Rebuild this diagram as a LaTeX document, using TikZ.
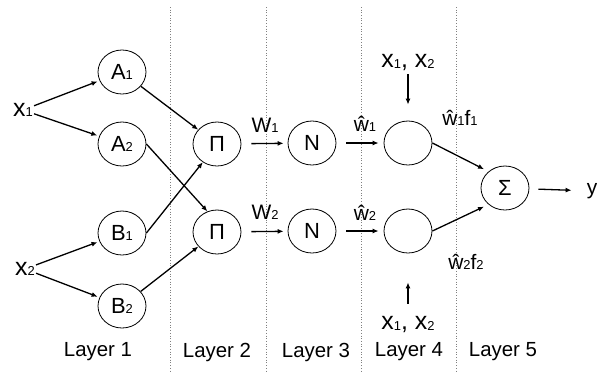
\documentclass[tikz,border=0pt]{standalone}
\usepackage{fontspec}
\setmainfont{Liberation Sans}
\usetikzlibrary{arrows.meta,shapes.geometric}
\newcommand{\lo}[1]{\raisebox{-0.4pt}{\fontsize{13}{13}\selectfont #1}}

\begin{document}
\begin{tikzpicture}[
  x=1bp,
  y=-1bp,
  unitnode/.style={ellipse, draw, line width=0.8bp, minimum width=48bp, minimum height=44bp, inner sep=0pt, font=\fontsize{22}{22}\selectfont},
  plainlabel/.style={inner sep=1pt, font=\fontsize{21}{21}\selectfont},
  inputlabel/.style={inner sep=1pt, font=\fontsize{25}{25}\selectfont},
  layerlabel/.style={font=\fontsize{20.5}{20.5}\selectfont},
  flow/.style={line width=1.3bp, -{Latex[length=6bp,width=5bp]}},
  divider/.style={gray, dotted, line width=0.7bp}
]
\useasboundingbox (0,0) rectangle (597,371);

\foreach \x in {170,266,361,456} {
  \draw[divider] (\x,7) -- (\x,371);
}
\foreach \x/\n in {98/1,217/2,316/3,409/4,503/5} {
  \node[layerlabel] at (\x,352) {Layer \n};
}

\node[inputlabel] (inOne) at (23,110) {x\lo{1}};
\node[inputlabel] (inTwo) at (25,269) {x\lo{2}};

\node[unitnode] (nA1) at (122,72) {A\lo{1}};
\node[unitnode] (nA2) at (122,144) {A\lo{2}};
\node[unitnode] (nB1) at (122,233) {B\lo{1}};
\node[unitnode] (nB2) at (122,306) {B\lo{2}};
\node[unitnode] (nP1) at (217,144) {Π};
\node[unitnode] (nP2) at (217,232) {Π};
\node[unitnode] (nN1) at (312,143) {N};
\node[unitnode] (nN2) at (312,231) {N};
\node[unitnode] (nF1) at (408,143) {};
\node[unitnode] (nF2) at (408,231) {};
\node[unitnode] (nSum) at (505,188) {Σ};
\node[plainlabel] (outY) at (592,191) {y};

\node[plainlabel] at (265,125) {W\lo{1}};
\node[plainlabel] at (265,212) {W\lo{2}};
\node[plainlabel] at (365,124) {ŵ\lo{1}};
\node[plainlabel] at (365,213) {ŵ\lo{2}};
\node[plainlabel] at (460,118) {ŵ\lo{1}f\lo{1}};
\node[plainlabel] at (466,262) {ŵ\lo{2}f\lo{2}};
\node[inputlabel] (topIn) at (408,63) {x\lo{1}, x\lo{2}};
\node[inputlabel] (botIn) at (408,325) {x\lo{1}, x\lo{2}};

\draw[flow, shorten >=2bp] (inOne) -- (nA1);
\draw[flow, shorten >=2bp] (inOne) -- (nA2);
\draw[flow, shorten >=2bp] (inTwo) -- (nB1);
\draw[flow, shorten >=2bp] (inTwo) -- (nB2);

\draw[flow] (nA1) -- (nP1);
\draw[flow] (nA2.east) -- (nP2.115);
\draw[flow] (nB1.east) -- (nP1.232);
\draw[flow] (nB2) -- (nP2);

\draw[flow, shorten <=10bp, shorten >=4bp] (nP1) -- (nN1);
\draw[flow, shorten <=10bp, shorten >=4bp] (nP2) -- (nN2);
\draw[flow, shorten <=10bp, shorten >=5bp] (nN1) -- (nF1);
\draw[flow, shorten <=10bp, shorten >=5bp] (nN2) -- (nF2);

\draw[flow, shorten <=2bp, shorten >=16bp] (topIn) -- (nF1);
\draw[flow, shorten <=12bp, shorten >=29bp] (botIn) -- (nF2);

\draw[flow, shorten >=5bp] (nF1.east) -- (nSum.135);
\draw[flow, shorten >=5bp] (nF2.east) -- (nSum.225);
\draw[flow, shorten <=9bp, shorten >=14bp] (nSum) -- (outY);
\end{tikzpicture}
\end{document}
